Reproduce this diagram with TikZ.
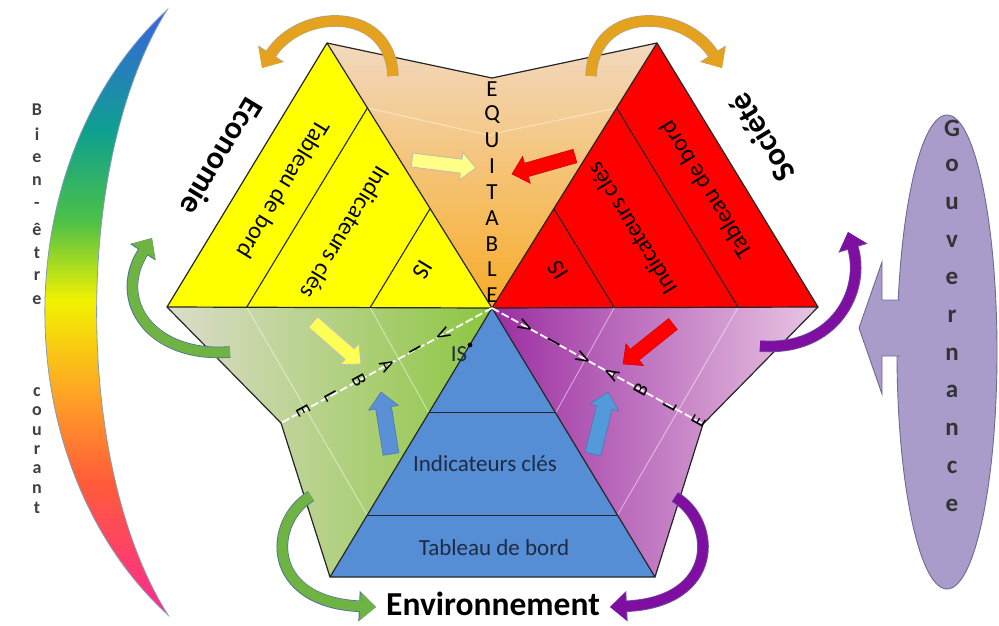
\documentclass[tikz,border=0pt]{standalone}
\usepackage{fontspec}
\setmainfont{Carlito}
\usetikzlibrary{shapes.geometric,arrows.meta,calc}
\definecolor{ytri}{HTML}{FFFF00}
\definecolor{rtri}{HTML}{FF0000}
\definecolor{btri}{HTML}{558ED5}
\definecolor{orTop}{HTML}{F2D8BE}
\definecolor{orBot}{HTML}{F8AC28}
\definecolor{grL}{HTML}{DCDCCB}
\definecolor{grR}{HTML}{8CC640}
\definecolor{puL}{HTML}{9C2EA2}
\definecolor{puR}{HTML}{E8C6E3}
\definecolor{goldA}{HTML}{E4A21E}
\definecolor{goldO}{HTML}{9C7A3A}
\definecolor{greenA}{HTML}{6FB443}
\definecolor{greenO}{HTML}{4D7396}
\definecolor{purpA}{HTML}{7E0FA0}
\definecolor{purpO}{HTML}{4B2C8C}
\definecolor{govF}{HTML}{A99CCB}
\definecolor{govD}{HTML}{6E6A90}
\definecolor{navyT}{HTML}{1E2B45}
\definecolor{yArrow}{HTML}{FFFF55}
\definecolor{bArrow}{HTML}{5B8FD6}
\definecolor{bluec}{HTML}{3A62E0}
\definecolor{tealc}{HTML}{0FA090}
\definecolor{greenc}{HTML}{4CC048}
\definecolor{yellowc}{HTML}{F2F200}
\definecolor{orangec}{HTML}{FFA126}
\definecolor{redc}{HTML}{FF5C3A}
\definecolor{pinkc}{HTML}{FF2A90}
\pgfdeclareverticalshading{rainbowshade}{100bp}{color(0bp)=(pinkc); color(25bp)=(pinkc); color(36bp)=(redc); color(43bp)=(orangec); color(51bp)=(yellowc); color(57.6bp)=(greenc); color(65bp)=(tealc); color(75bp)=(bluec); color(100bp)=(bluec)}
% block arrow: #1 tail, #2 tip, #3 half shaft, #4 half head, #5 head length, #6 style
\newcommand\blockarr[6]{%
  \path (#2) coordinate (baP) ($(#2)!#5!(#1)$) coordinate (baH);
  \draw[#6] ($(#1)!#3!90:(#2)$) -- ($(baH)!#3!90:(baP)$) -- ($(baH)!#4!90:(baP)$) -- (baP)
    -- ($(baH)!#4!-90:(baP)$) -- ($(baH)!#3!-90:(baP)$) -- ($(#1)!#3!-90:(#2)$) -- cycle;}
\begin{document}
\begin{tikzpicture}[x=1pt,y=-1pt,
  edge/.style={draw=black!85,line width=1.2pt,line join=round},
  strip/.style={draw=black!85,line width=1.1pt},
  faint/.style={draw=white,opacity=0.5,line width=0.9pt},
  dashline/.style={draw=white,line width=1.8pt,dash pattern=on 8pt off 3pt},
  letter/.style={inner sep=0pt,font=\fontsize{23}{23}\selectfont},
  vletter/.style={inner sep=0pt,font=\fontsize{20}{20}\selectfont},
  triText/.style={inner sep=0pt,font=\fontsize{24}{24}\selectfont},
  bigTitle/.style={inner sep=0pt,font=\bfseries\fontsize{32}{32}\selectfont},
  envTitle/.style={inner sep=0pt,font=\bfseries\fontsize{33.5}{33.5}\selectfont},
  blueText/.style={inner sep=0pt,text=navyT,font=\fontsize{23}{23}\selectfont},
  sideLetter/.style={inner sep=0pt,text=black!75,font=\bfseries\fontsize{18}{18}\selectfont},
  govLetter/.style={inner sep=0pt,text=black!80,font=\bfseries\fontsize{25}{25}\selectfont},
  goldArrow/.style={line width=10pt,draw=goldA,-{Triangle[length=16pt,width=27pt]}},
  goldArrowO/.style={line width=11.6pt,draw=goldO!70,-{Triangle[length=17pt,width=29.5pt]}},
  greenArrow/.style={line width=10pt,draw=greenA,-{Triangle[length=16pt,width=27pt]}},
  greenArrowO/.style={line width=11.6pt,draw=greenO,-{Triangle[length=17pt,width=29.5pt]}},
  purpArrow/.style={line width=10pt,draw=purpA,-{Triangle[length=16pt,width=27pt]}},
  purpArrowO/.style={line width=11.6pt,draw=purpO!80,-{Triangle[length=17pt,width=29.5pt]}}
]
\useasboundingbox (0,0) rectangle (999,625);
% key points
\coordinate (C) at (492,308);
\coordinate (YA) at (327,43);
\coordinate (YL) at (167,307);
\coordinate (RA) at (657,43);
\coordinate (RR) at (818,307);
\coordinate (BL) at (330,577);
\coordinate (BR) at (655,577);
\coordinate (TM) at (492,78);
\coordinate (GL) at (281,423);
\coordinate (PR) at (703,424);

% rainbow crescent
\path[shading=rainbowshade,draw=greenO!70,line width=0.8pt] (167,10) .. controls (4,160) and (4,465) .. (168,615)
   .. controls (73,465) and (73,160) .. (167,10) -- cycle;
\foreach \l/\yy [count=\i] in {B/110,i/134,e/158,n/181,-/205,ê/229,t/253,r/276,e/300,c/392,o/411,u/431,r/450,a/469,n/489,t/508}
  \node[sideLetter] (bien\i) at (37,\yy) {\l};

% governance ellipse
\node[ellipse,draw=govD,fill=govF,line width=0.9pt,minimum width=100pt,minimum height=474pt,inner sep=0pt] (gov) at (947,352) {};
\foreach \l [count=\i from 0] in {G,o,u,v,e,r,n,a,n,c,e}
  \node[govLetter] (gl\i) at (952,128+37.7*\i) {\l};
\draw[draw=govD,fill=govF,line width=0.9pt,line join=miter] (900,300) -- (882,300) -- (882,262) -- (859,328) -- (882,394) -- (882,356) -- (900,356);

% side faces
\path[top color=orTop,bottom color=orBot] (YA) -- (TM) -- (RA) -- (C) -- cycle;
\path[left color=grL,right color=grR] (YL) -- (C) -- (BL) -- (GL) -- cycle;
\path[left color=puL,right color=puR] (C) -- (RR) -- (PR) -- (BR) -- cycle;
\draw[edge] (YA) -- (TM) -- (RA);
\draw[edge] (YL) -- (GL) -- (BL);
\draw[edge] (RR) -- (PR) -- (BR);

% faint fold lines
\draw[faint] ($(YA)!0.245!(C)$) -- (492,136);
\draw[faint] ($(RA)!0.245!(C)$) -- (492,134);
\draw[faint] ($(YL)!0.625!(C)$) -- ($(C)!0.39!(BL)$);
\draw[faint] ($(YL)!0.245!(C)$) -- ($(C)!0.77!(BL)$);
\draw[faint] ($(RR)!0.625!(C)$) -- ($(C)!0.39!(BR)$);
\draw[faint] ($(RR)!0.245!(C)$) -- ($(C)!0.77!(BR)$);

% triangles
\filldraw[edge,fill=ytri] (YA) -- (YL) -- (C) -- cycle;
\filldraw[edge,fill=rtri] (RA) -- (C) -- (RR) -- cycle;
\filldraw[edge,fill=btri] (C) -- (BL) -- (BR) -- cycle;
\draw[strip] ($(YA)!0.245!(C)$) -- ($(YL)!0.245!(C)$);
\draw[strip] ($(YA)!0.625!(C)$) -- ($(YL)!0.625!(C)$);
\draw[strip] ($(RA)!0.245!(C)$) -- ($(RR)!0.245!(C)$);
\draw[strip] ($(RA)!0.625!(C)$) -- ($(RR)!0.625!(C)$);
\draw[strip] ($(C)!0.39!(BL)$) -- ($(C)!0.39!(BR)$);
\draw[strip] ($(C)!0.77!(BL)$) -- ($(C)!0.77!(BR)$);

% dashed separators
\draw[dashline] (C) -- (GL);
\draw[dashline] (C) -- (PR);

% letters along the folds
\foreach \l [count=\i from 0] in {E,Q,U,I,T,A,B,L,E}
  \node[letter] (eq\i) at (492,89+25.8*\i) {\l};
\foreach \l [count=\i from 0] in {V,I,A,B,L,E}
  \node[vletter,rotate=-61.5] (via\i) at ($(C)!{(56+32*\i)/241.2}!(GL)$) {\l};
\foreach \l [count=\i from 0] in {V,I,V,A,B,L,E}
  \node[vletter,rotate=61] (viv\i) at ($(C)!{(38+33*\i)/241.3}!(PR)$) {\l};

% triangle texts
\node[triText,rotate=-121.2] (ytab) at (284,190) {Tableau de bord};
\node[triText,rotate=-121.2] (yind) at (346,233) {Indicateurs clés};
\node[triText,rotate=-121.2] (yis) at (423,270) {IS};
\node[bigTitle,rotate=-121.2] (econ) at (222,157) {Economie};
\node[triText,rotate=121.4] (rtab) at (706,190) {Tableau de bord};
\node[triText,rotate=121.4] (rind) at (632,229) {Indicateurs clés};
\node[triText,rotate=121.4] (ris) at (558,270) {IS};
\node[bigTitle,rotate=121.4] (soc) at (762,138) {Société};
\node[blueText] (bis) at (462,352) {IS\raisebox{1.2ex}{\color{black}\fontsize{12}{12}\selectfont$\bullet$}};
\node[blueText] (bind) at (485,464) {Indicateurs clés};
\node[blueText] (btab) at (494,548) {Tableau de bord};
\node[envTitle] (env) at (493,604) {Environnement};

% straight block arrows
\coordinate (a1t) at (412,160); \coordinate (a1p) at (476,168);
\coordinate (a2t) at (575,156); \coordinate (a2p) at (512,174);
\coordinate (a3t) at (313,322); \coordinate (a3p) at (361,364);
\coordinate (a4t) at (391,454); \coordinate (a4p) at (381,392);
\coordinate (a5t) at (673,324); \coordinate (a5p) at (623,364);
\coordinate (a6t) at (593,454); \coordinate (a6p) at (608,392);
\blockarr{a1t}{a1p}{7pt}{14pt}{15pt}{fill=yArrow!70!white,draw=gray!55,line width=0.8pt}
\blockarr{a2t}{a2p}{7pt}{14pt}{15pt}{fill=rtri,draw=rtri!80!black,line width=0.5pt}
\blockarr{a3t}{a3p}{7pt}{14pt}{15pt}{fill=yArrow,draw=gray!50,line width=0.8pt}
\blockarr{a4t}{a4p}{8pt}{15pt}{16pt}{fill=bArrow,draw=bArrow!80!black,line width=0.5pt}
\blockarr{a5t}{a5p}{7pt}{14pt}{15pt}{fill=rtri,draw=rtri!80!black,line width=0.5pt}
\blockarr{a6t}{a6p}{8pt}{15pt}{16pt}{fill=bArrow!90!cyan,draw=bArrow!80!black,line width=0.5pt}

% curved arrows
\coordinate (o1t) at (393,76); \coordinate (o1p) at (262,68);
\coordinate (o2t) at (591,76); \coordinate (o2p) at (722,68);
\draw[goldArrowO] (o1t) .. controls (390,5) and (300,8) .. (o1p);
\draw[goldArrow] (o1t) .. controls (390,5) and (300,8) .. (o1p);
\draw[goldArrowO] (o2t) .. controls (594,5) and (684,8) .. (o2p);
\draw[goldArrow] (o2t) .. controls (594,5) and (684,8) .. (o2p);

\coordinate (g1t) at (230,352); \coordinate (g1p) at (152,238);
\draw[greenArrowO] (g1t) .. controls (150,358) and (112,300) .. (g1p);
\draw[greenArrow] (g1t) .. controls (150,358) and (112,300) .. (g1p);
\coordinate (g2t) at (311,496); \coordinate (g2p) at (376,607);
\draw[greenArrowO] (g2t) .. controls (268,522) and (265,602) .. (g2p);
\draw[greenArrow] (g2t) .. controls (268,522) and (265,602) .. (g2p);

\coordinate (p1t) at (760,346); \coordinate (p1p) at (848,232);
\draw[purpArrowO] (p1t) .. controls (835,352) and (866,290) .. (p1p);
\draw[purpArrow] (p1t) .. controls (835,352) and (866,290) .. (p1p);
\coordinate (p2t) at (675,497); \coordinate (p2p) at (610,607);
\draw[purpArrowO] (p2t) .. controls (717,522) and (720,602) .. (p2p);
\draw[purpArrow] (p2t) .. controls (717,522) and (720,602) .. (p2p);
\end{tikzpicture}
\end{document}
